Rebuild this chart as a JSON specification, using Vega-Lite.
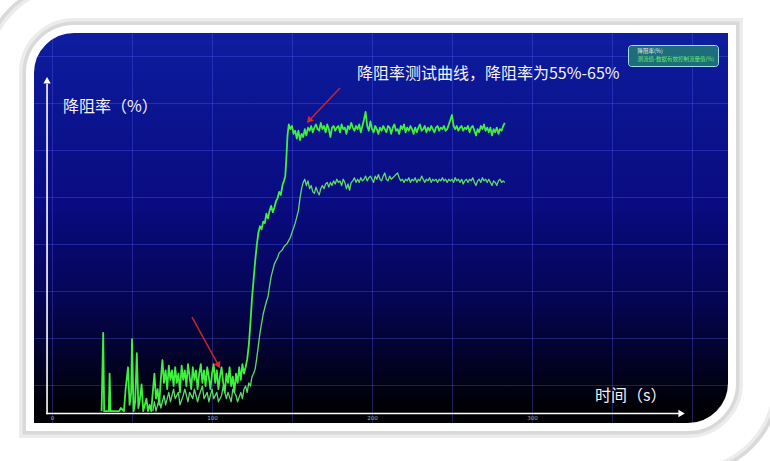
{
"$schema": "https://vega.github.io/schema/vega-lite/v6.json",
"width": 754, "height": 450,
"autosize": {"type": "none"},
"padding": {"left": 4, "top": 3, "right": 12, "bottom": 8},
"background": "#ffffff",
"config": {
  "view": {"stroke": null, "fill": {"gradient": "linear", "x1": 0, "y1": 0, "x2": 0, "y2": 1, "stops": [
    {"offset": 0, "color": "#1224a6"}, {"offset": 0.12, "color": "#0d1a9a"}, {"offset": 0.45, "color": "#090b80"},
    {"offset": 0.65, "color": "#050556"}, {"offset": 0.8, "color": "#020226"}, {"offset": 0.9, "color": "#000005"}, {"offset": 1, "color": "#000000"}]}},
  "font": "Noto Sans CJK SC"
},
"datasets": {
"curves": [
{"s":"a","t":31,"v":-16},{"s":"a","t":32,"v":9},{"s":"a","t":32.6,"v":-16},{"s":"a","t":35.5,"v":-16},{"s":"a","t":36,"v":-4},{"s":"a","t":36.6,"v":-16},{"s":"a","t":42,"v":-16},{"s":"a","t":43,"v":-15},{"s":"a","t":45,"v":-16},{"s":"a","t":46,"v":-9},{"s":"a","t":47.5,"v":-2},{"s":"a","t":48.5,"v":-14},{"s":"a","t":49.5,"v":-10},{"s":"a","t":50,"v":7},{"s":"a","t":51,"v":-16},{"s":"a","t":52,"v":-13},{"s":"a","t":53,"v":2.5},{"s":"a","t":54,"v":-15},{"s":"a","t":55,"v":-12},{"s":"a","t":56,"v":-7.5},{"s":"a","t":57,"v":-16},{"s":"a","t":58,"v":-14},{"s":"a","t":59,"v":-12},{"s":"a","t":60,"v":-16},{"s":"a","t":61,"v":-14},{"s":"a","t":62,"v":-16},{"s":"a","t":63,"v":-10},{"s":"a","t":64,"v":-4},{"s":"a","t":65,"v":-12},{"s":"a","t":66,"v":-9},{"s":"a","t":67,"v":-14},{"s":"a","t":68,"v":-6},{"s":"a","t":69,"v":0.3},
{"s":"a","t":70,"v":-7},{"s":"a","t":71,"v":-3},{"s":"a","t":72,"v":-9},{"s":"a","t":73,"v":-1.5},{"s":"a","t":74,"v":-6},{"s":"a","t":75,"v":-3},{"s":"a","t":76,"v":-8},{"s":"a","t":77,"v":-2},{"s":"a","t":78,"v":-7},{"s":"a","t":79,"v":-4},{"s":"a","t":80,"v":-10},{"s":"a","t":81,"v":-1.5},{"s":"a","t":82,"v":-6},{"s":"a","t":83,"v":-3},{"s":"a","t":84,"v":-8},{"s":"a","t":85,"v":-1},{"s":"a","t":86,"v":-5},{"s":"a","t":87,"v":-9},{"s":"a","t":88,"v":-2},{"s":"a","t":89,"v":-6},{"s":"a","t":90,"v":-3},{"s":"a","t":91,"v":-9},{"s":"a","t":92,"v":-4},{"s":"a","t":93,"v":-1},{"s":"a","t":94,"v":-7},{"s":"a","t":95,"v":-3},{"s":"a","t":96,"v":-8},{"s":"a","t":97,"v":-2},{"s":"a","t":98,"v":-5},{"s":"a","t":99,"v":-9},{"s":"a","t":100,"v":-4},{"s":"a","t":101,"v":-1},{"s":"a","t":102,"v":-7},{"s":"a","t":103,"v":-3},{"s":"a","t":104,"v":-9},{"s":"a","t":105,"v":-5},{"s":"a","t":106,"v":-2},{"s":"a","t":107,"v":-7},{"s":"a","t":108,"v":-10},{"s":"a","t":109,"v":-4},{"s":"a","t":110,"v":-7},{"s":"a","t":111,"v":-2},{"s":"a","t":112,"v":-8},{"s":"a","t":113,"v":-5},{"s":"a","t":114,"v":-10},{"s":"a","t":115,"v":-4},{"s":"a","t":116,"v":-7},{"s":"a","t":117,"v":-2},{"s":"a","t":118,"v":-6},{"s":"a","t":119,"v":-1},{"s":"a","t":120,"v":-4},{"s":"a","t":121,"v":-2},
{"s":"a","t":122,"v":0.5},{"s":"a","t":123,"v":5},{"s":"a","t":124,"v":12},{"s":"a","t":125,"v":20},{"s":"a","t":126,"v":26},{"s":"a","t":127,"v":32},{"s":"a","t":128,"v":37},{"s":"a","t":129,"v":41},{"s":"a","t":130,"v":43},{"s":"a","t":131,"v":42},{"s":"a","t":132,"v":44.5},{"s":"a","t":133,"v":44},{"s":"a","t":134,"v":47},{"s":"a","t":135,"v":45.5},{"s":"a","t":136,"v":48},{"s":"a","t":137,"v":49.5},{"s":"a","t":138,"v":47.5},{"s":"a","t":139,"v":49},{"s":"a","t":140,"v":51},{"s":"a","t":141,"v":52},{"s":"a","t":142,"v":54},{"s":"a","t":143,"v":53},{"s":"a","t":144,"v":56},{"s":"a","t":145,"v":57.5},{"s":"a","t":145.8,"v":59},{"s":"a","t":146.5,"v":65},{"s":"a","t":147.2,"v":72},{"s":"a","t":148,"v":75.5},{"s":"a","t":149,"v":74},{"s":"a","t":150,"v":75},{"s":"a","t":151,"v":72.5},{"s":"a","t":152,"v":73.5},{"s":"a","t":153,"v":71},{"s":"a","t":154,"v":73.5},{"s":"a","t":155,"v":70.5},{"s":"a","t":156,"v":72.5},{"s":"a","t":157,"v":71.5},{"s":"a","t":158,"v":74},{"s":"a","t":159,"v":72},{"s":"a","t":160,"v":74.5},{"s":"a","t":161,"v":73.5},{"s":"a","t":162,"v":75},{"s":"a","t":163,"v":73},{"s":"a","t":164,"v":74.5},{"s":"a","t":165,"v":75.5},{"s":"a","t":166,"v":74},{"s":"a","t":167,"v":73.5},{"s":"a","t":168,"v":76},{"s":"a","t":169,"v":74},{"s":"a","t":170,"v":75},{"s":"a","t":171,"v":73},{"s":"a","t":172,"v":75.5},{"s":"a","t":173,"v":74},{"s":"a","t":174,"v":71.5},{"s":"a","t":175,"v":74.5},{"s":"a","t":176,"v":75},{"s":"a","t":177,"v":73.5},{"s":"a","t":178,"v":74.5},{"s":"a","t":179,"v":75},{"s":"a","t":180,"v":73},{"s":"a","t":181,"v":75.5},{"s":"a","t":182,"v":74},{"s":"a","t":183,"v":74.5},{"s":"a","t":184,"v":72.5},{"s":"a","t":185,"v":75},{"s":"a","t":186,"v":74},{"s":"a","t":187,"v":76},{"s":"a","t":188,"v":74.5},{"s":"a","t":189,"v":73.5},{"s":"a","t":190,"v":75},{"s":"a","t":191,"v":74},{"s":"a","t":192,"v":75.5},{"s":"a","t":193,"v":73},{"s":"a","t":194,"v":75},{"s":"a","t":195,"v":77},{"s":"a","t":196,"v":79.5},{"s":"a","t":197,"v":75},{"s":"a","t":198,"v":73.5},{"s":"a","t":199,"v":76.5},{"s":"a","t":200,"v":74},{"s":"a","t":201,"v":73},{"s":"a","t":202,"v":75},{"s":"a","t":203,"v":74},{"s":"a","t":204,"v":72.5},{"s":"a","t":205,"v":74.5},{"s":"a","t":206,"v":73.5},{"s":"a","t":207,"v":75},{"s":"a","t":208,"v":74},{"s":"a","t":209,"v":73},{"s":"a","t":210,"v":75},{"s":"a","t":211,"v":74.5},{"s":"a","t":212,"v":72.5},{"s":"a","t":213,"v":74.5},{"s":"a","t":214,"v":75.5},{"s":"a","t":215,"v":73.5},{"s":"a","t":216,"v":74},{"s":"a","t":217,"v":72.5},{"s":"a","t":218,"v":75},{"s":"a","t":219,"v":74},{"s":"a","t":220,"v":75.5},{"s":"a","t":221,"v":73},{"s":"a","t":222,"v":74.5},{"s":"a","t":223,"v":73.5},{"s":"a","t":224,"v":75},{"s":"a","t":225,"v":74},{"s":"a","t":226,"v":72.5},{"s":"a","t":227,"v":74.5},{"s":"a","t":228,"v":73},{"s":"a","t":229,"v":74.5},{"s":"a","t":230,"v":75.5},{"s":"a","t":231,"v":73.5},{"s":"a","t":232,"v":74},{"s":"a","t":233,"v":75},{"s":"a","t":234,"v":73},{"s":"a","t":235,"v":74.5},{"s":"a","t":236,"v":73.5},{"s":"a","t":237,"v":75},{"s":"a","t":238,"v":74},{"s":"a","t":239,"v":73},{"s":"a","t":240,"v":74.5},{"s":"a","t":241,"v":75},{"s":"a","t":242,"v":73.5},{"s":"a","t":243,"v":74.5},{"s":"a","t":244,"v":74},{"s":"a","t":245,"v":75},{"s":"a","t":246,"v":73.5},{"s":"a","t":247,"v":74},{"s":"a","t":248,"v":75.5},{"s":"a","t":249,"v":77},{"s":"a","t":250,"v":78.5},{"s":"a","t":251,"v":75},{"s":"a","t":252,"v":74},{"s":"a","t":253,"v":75},{"s":"a","t":254,"v":73.5},{"s":"a","t":255,"v":74.5},{"s":"a","t":256,"v":75},{"s":"a","t":257,"v":73.5},{"s":"a","t":258,"v":74.5},{"s":"a","t":259,"v":74},{"s":"a","t":260,"v":75},{"s":"a","t":261,"v":73},{"s":"a","t":262,"v":74.5},{"s":"a","t":263,"v":75},{"s":"a","t":264,"v":73.5},{"s":"a","t":265,"v":72},{"s":"a","t":266,"v":74},{"s":"a","t":267,"v":73},{"s":"a","t":268,"v":75},{"s":"a","t":269,"v":74},{"s":"a","t":270,"v":75.5},{"s":"a","t":271,"v":73.5},{"s":"a","t":272,"v":74.5},{"s":"a","t":273,"v":73},{"s":"a","t":274,"v":74.5},{"s":"a","t":275,"v":72},{"s":"a","t":276,"v":74},{"s":"a","t":277,"v":73},{"s":"a","t":278,"v":74.5},{"s":"a","t":279,"v":72.5},{"s":"a","t":280,"v":74},{"s":"a","t":281,"v":73.5},{"s":"a","t":282,"v":75},{"s":"a","t":283,"v":76},
{"s":"b","t":63,"v":-16},{"s":"b","t":64,"v":-13},{"s":"b","t":65,"v":-16},{"s":"b","t":67,"v":-12},{"s":"b","t":68,"v":-15},{"s":"b","t":70,"v":-11},{"s":"b","t":71,"v":-14},{"s":"b","t":73,"v":-10},{"s":"b","t":74,"v":-13},{"s":"b","t":76,"v":-9},{"s":"b","t":77,"v":-12},{"s":"b","t":79,"v":-10},{"s":"b","t":80,"v":-14},{"s":"b","t":82,"v":-11},{"s":"b","t":83,"v":-9},{"s":"b","t":85,"v":-13},{"s":"b","t":86,"v":-10},{"s":"b","t":88,"v":-12},{"s":"b","t":89,"v":-9},{"s":"b","t":91,"v":-13},{"s":"b","t":92,"v":-11},{"s":"b","t":94,"v":-8},{"s":"b","t":95,"v":-12},{"s":"b","t":97,"v":-10},{"s":"b","t":98,"v":-13},{"s":"b","t":100,"v":-9},{"s":"b","t":101,"v":-12},{"s":"b","t":103,"v":-10},{"s":"b","t":104,"v":-13},{"s":"b","t":106,"v":-11},{"s":"b","t":107,"v":-8},{"s":"b","t":109,"v":-12},{"s":"b","t":110,"v":-10},{"s":"b","t":112,"v":-13},{"s":"b","t":113,"v":-9},{"s":"b","t":115,"v":-11},{"s":"b","t":116,"v":-13},{"s":"b","t":118,"v":-10},{"s":"b","t":119,"v":-12},{"s":"b","t":120,"v":-9},{"s":"b","t":121,"v":-8},{"s":"b","t":122,"v":-10},{"s":"b","t":123,"v":-7},{"s":"b","t":124,"v":-8},{"s":"b","t":125,"v":-5},{"s":"b","t":126,"v":-4},{"s":"b","t":127,"v":-2.5},{"s":"b","t":128,"v":1},{"s":"b","t":129,"v":5},{"s":"b","t":130,"v":9},{"s":"b","t":131,"v":12},{"s":"b","t":132,"v":15},{"s":"b","t":133,"v":17},{"s":"b","t":134,"v":19},{"s":"b","t":135,"v":20.5},{"s":"b","t":136,"v":24},{"s":"b","t":137,"v":27},{"s":"b","t":138,"v":29},{"s":"b","t":139,"v":31},{"s":"b","t":140,"v":32},{"s":"b","t":141,"v":33},{"s":"b","t":142,"v":34.5},{"s":"b","t":143,"v":35},{"s":"b","t":144,"v":35.5},{"s":"b","t":145,"v":36.5},{"s":"b","t":146,"v":37},{"s":"b","t":147,"v":37.5},{"s":"b","t":148,"v":38.5},{"s":"b","t":149,"v":39.5},{"s":"b","t":150,"v":41},{"s":"b","t":151,"v":42.5},{"s":"b","t":152,"v":44},{"s":"b","t":153,"v":46},{"s":"b","t":154,"v":48},{"s":"b","t":155,"v":52},{"s":"b","t":156,"v":55},{"s":"b","t":157,"v":57},{"s":"b","t":158,"v":58},{"s":"b","t":159,"v":56},{"s":"b","t":160,"v":57.5},{"s":"b","t":161,"v":55},{"s":"b","t":162,"v":56},{"s":"b","t":163,"v":54},{"s":"b","t":164,"v":53.5},{"s":"b","t":165,"v":55.5},{"s":"b","t":166,"v":54},{"s":"b","t":167,"v":53},{"s":"b","t":168,"v":55},{"s":"b","t":169,"v":56},{"s":"b","t":170,"v":55},{"s":"b","t":171,"v":56.5},{"s":"b","t":172,"v":57},{"s":"b","t":173,"v":55.5},{"s":"b","t":174,"v":57},{"s":"b","t":175,"v":56},{"s":"b","t":176,"v":57.5},{"s":"b","t":177,"v":56.5},{"s":"b","t":178,"v":58},{"s":"b","t":179,"v":57},{"s":"b","t":180,"v":57.5},{"s":"b","t":181,"v":56},{"s":"b","t":182,"v":58},{"s":"b","t":183,"v":57},{"s":"b","t":184,"v":55},{"s":"b","t":185,"v":56.5},{"s":"b","t":186,"v":54.5},{"s":"b","t":187,"v":57},{"s":"b","t":188,"v":57.5},{"s":"b","t":189,"v":58.5},{"s":"b","t":190,"v":57},{"s":"b","t":191,"v":58},{"s":"b","t":192,"v":57},{"s":"b","t":193,"v":58.5},{"s":"b","t":194,"v":57.5},{"s":"b","t":195,"v":58},{"s":"b","t":196,"v":59},{"s":"b","t":197,"v":57.5},{"s":"b","t":198,"v":58.5},{"s":"b","t":199,"v":59},{"s":"b","t":200,"v":58},{"s":"b","t":201,"v":57},{"s":"b","t":202,"v":59},{"s":"b","t":203,"v":58},{"s":"b","t":204,"v":59.5},{"s":"b","t":205,"v":58},{"s":"b","t":206,"v":57.5},{"s":"b","t":207,"v":59},{"s":"b","t":208,"v":60},{"s":"b","t":209,"v":58},{"s":"b","t":210,"v":57.5},{"s":"b","t":211,"v":59},{"s":"b","t":212,"v":58},{"s":"b","t":213,"v":58.5},{"s":"b","t":214,"v":59},{"s":"b","t":215,"v":59.5},{"s":"b","t":216,"v":60},{"s":"b","t":217,"v":58.5},{"s":"b","t":218,"v":57.5},{"s":"b","t":219,"v":58},{"s":"b","t":220,"v":57},{"s":"b","t":221,"v":58},{"s":"b","t":222,"v":57.5},{"s":"b","t":223,"v":58.5},{"s":"b","t":224,"v":57},{"s":"b","t":225,"v":58},{"s":"b","t":226,"v":57.5},{"s":"b","t":227,"v":58.5},{"s":"b","t":228,"v":57},{"s":"b","t":229,"v":58},{"s":"b","t":230,"v":57.5},{"s":"b","t":231,"v":59},{"s":"b","t":232,"v":58},{"s":"b","t":233,"v":57},{"s":"b","t":234,"v":58},{"s":"b","t":235,"v":57.5},{"s":"b","t":236,"v":58.5},{"s":"b","t":237,"v":57},{"s":"b","t":238,"v":58},{"s":"b","t":239,"v":57.5},{"s":"b","t":240,"v":58},{"s":"b","t":241,"v":57},{"s":"b","t":242,"v":58},{"s":"b","t":243,"v":57.5},{"s":"b","t":244,"v":58.5},{"s":"b","t":245,"v":57.5},{"s":"b","t":246,"v":58},{"s":"b","t":247,"v":57},{"s":"b","t":248,"v":58},{"s":"b","t":249,"v":57.5},{"s":"b","t":250,"v":58},{"s":"b","t":251,"v":57},{"s":"b","t":252,"v":58.5},{"s":"b","t":253,"v":57.5},{"s":"b","t":254,"v":58},{"s":"b","t":255,"v":57},{"s":"b","t":256,"v":58},{"s":"b","t":257,"v":56.5},{"s":"b","t":258,"v":57.5},{"s":"b","t":259,"v":58},{"s":"b","t":260,"v":57},{"s":"b","t":261,"v":58},{"s":"b","t":262,"v":57.5},{"s":"b","t":263,"v":58.5},{"s":"b","t":264,"v":57},{"s":"b","t":265,"v":56},{"s":"b","t":266,"v":57.5},{"s":"b","t":267,"v":58},{"s":"b","t":268,"v":57},{"s":"b","t":269,"v":58.5},{"s":"b","t":270,"v":57.5},{"s":"b","t":271,"v":58},{"s":"b","t":272,"v":57},{"s":"b","t":273,"v":58},{"s":"b","t":274,"v":57},{"s":"b","t":275,"v":56},{"s":"b","t":276,"v":57.5},{"s":"b","t":277,"v":57},{"s":"b","t":278,"v":56},{"s":"b","t":279,"v":57.5},{"s":"b","t":280,"v":58},{"s":"b","t":281,"v":57},{"s":"b","t":282,"v":57.5},{"s":"b","t":283,"v":57}
]
},
"layer": [
  {"data": {"values": [{}]}, "mark": {"type": "rect", "fill": null, "stroke": "#ffffff", "strokeWidth": 60, "cornerRadiusTopLeft": 70, "cornerRadiusBottomRight": 70}, "encoding": {}},
  {"data": {"values": [{}]}, "mark": {"type": "rect", "fill": null, "stroke": "#d9d9d9", "strokeWidth": 44, "cornerRadiusTopLeft": 70, "cornerRadiusBottomRight": 70}, "encoding": {}},
  {"data": {"values": [{}]}, "mark": {"type": "rect", "fill": null, "stroke": "#ececec", "strokeWidth": 37, "cornerRadiusTopLeft": 70, "cornerRadiusBottomRight": 70}, "encoding": {}},
  {"data": {"values": [{}]}, "mark": {"type": "rect", "fill": null, "stroke": "#ffffff", "strokeWidth": 30, "cornerRadiusTopLeft": 70, "cornerRadiusBottomRight": 70}, "encoding": {}},
  {
    "data": {"name": "curves"},
    "mark": {"type": "line", "strokeJoin": "round"},
    "encoding": {
      "x": {"field": "t", "type": "quantitative",
        "scale": {"domain": [-30, 441.25], "nice": false, "zero": false},
        "axis": {"title": null, "offset": -39.5, "values": [0,50,100,150,200,250,300,350,400],
          "labelExpr": "datum.value % 100 === 0 && datum.value < 400 ? datum.label : ''",
          "grid": true, "gridColor": "#5565ff", "gridOpacity": 0.32, "domain": false, "ticks": false,
          "labelFontSize": 5.5, "labelColor": "#b0b0b0", "labelPadding": 2, "labelFont": "DejaVu Sans",
          "labelOverlap": false, "labelFlush": false}},
      "y": {"field": "v", "type": "quantitative",
        "scale": {"domain": [-29.36, 114.26], "nice": false, "zero": false},
        "axis": {"title": null, "offset": -43, "values": [-22.5,-15,-7.5,0,7.5,15,22.5,30,37.5,45,52.5,60,67.5,75,82.5,90,97.5,105,112.5],
          "labelExpr": "(datum.value === -15 || datum.value === 0 || datum.value === 15 || datum.value === 30 || datum.value === 45 || datum.value === 60 || datum.value === 75) ? datum.label : ''",
          "grid": true, "gridColor": "#5565ff", "gridOpacity": 0.32, "domain": false, "ticks": false,
          "labelFontSize": 6, "labelColor": "#b4b8d8", "labelPadding": 2, "labelFont": "DejaVu Sans",
          "labelOverlap": false, "labelFlush": false, "labelBound": false}},
      "color": {"field": "s", "type": "nominal",
        "scale": {"domain": ["a", "b"], "range": ["#3ff03c", "#5cdc66"]},
        "legend": {"orient": "none", "legendX": 624, "legendY": 42, "title": null,
          "fillColor": "#1d6d7c", "strokeColor": "#a6dce6", "cornerRadius": 3, "padding": 3,
          "labelFontSize": 5.5, "labelColor": "#e8e8e8", "symbolOpacity": 0, "symbolSize": 4, "labelOffset": 1, "rowPadding": 1,
          "labelLimit": 200, "labelFont": "Noto Sans CJK SC",
          "labelExpr": "datum.value === 'a' ? '降阻率(%)' : '测流值-数据有效控制流量值(%)'",
          "encode": {"labels": {"update": {"fill": {"signal": "datum.value === 'a' ? '#e8e8e8' : '#6ee86a'"}}}}}},
      "strokeWidth": {"field": "s", "type": "nominal", "scale": {"domain": ["a", "b"], "range": [1.8, 1.3]}, "legend": null}
    }
  },
  {
    "data": {"values": [{"t": -3.1, "v": -17, "t2": -3.1, "v2": 88.5}, {"t": -3.6, "v": -16.75, "t2": 393, "v2": -16.75}]},
    "mark": {"type": "rule", "color": "#ffffff", "strokeWidth": 1.6},
    "encoding": {"x": {"field": "t", "type": "quantitative"}, "y": {"field": "v", "type": "quantitative"}, "x2": {"field": "t2"}, "y2": {"field": "v2"}}
  },
  {
    "data": {"values": [{"t": -3.1, "v": 89.6}]},
    "mark": {"type": "point", "shape": "triangle-up", "filled": true, "color": "#ffffff", "size": 55, "opacity": 1},
    "encoding": {"x": {"field": "t", "type": "quantitative"}, "y": {"field": "v", "type": "quantitative"}}
  },
  {
    "data": {"values": [{"t": 393.5, "v": -16.75}]},
    "mark": {"type": "point", "shape": "triangle-right", "filled": true, "color": "#ffffff", "size": 55, "opacity": 1},
    "encoding": {"x": {"field": "t", "type": "quantitative"}, "y": {"field": "v", "type": "quantitative"}}
  },
  {
    "data": {"values": [{"t": 180, "v": 87.1, "t2": 160.6, "v2": 76.7}, {"t": 87.5, "v": 14.0, "t2": 104.1, "v2": -1.4}]},
    "mark": {"type": "rule", "color": "#c4262c", "strokeWidth": 1.5},
    "encoding": {"x": {"field": "t", "type": "quantitative"}, "y": {"field": "v", "type": "quantitative"}, "x2": {"field": "t2"}, "y2": {"field": "v2"}}
  },
  {
    "data": {"values": [{"t": 160.6, "v": 76.7}]},
    "mark": {"type": "point", "shape": "triangle-up", "filled": true, "color": "#d0262c", "size": 55, "angle": 223, "opacity": 1},
    "encoding": {"x": {"field": "t", "type": "quantitative"}, "y": {"field": "v", "type": "quantitative"}}
  },
  {
    "data": {"values": [{"t": 104.1, "v": -1.4}]},
    "mark": {"type": "point", "shape": "triangle-up", "filled": true, "color": "#d0262c", "size": 55, "angle": 151, "opacity": 1},
    "encoding": {"x": {"field": "t", "type": "quantitative"}, "y": {"field": "v", "type": "quantitative"}}
  },
  {
    "data": {"values": [{"t": 190.6, "v": 91.6, "label": "降阻率测试曲线，降阻率为55%-65%"}]},
    "mark": {"type": "text", "align": "left", "baseline": "middle", "fontSize": 16, "color": "#f2f2f2", "font": "Noto Sans CJK SC"},
    "encoding": {"x": {"field": "t", "type": "quantitative"}, "y": {"field": "v", "type": "quantitative"}, "text": {"field": "label"}}
  },
  {
    "data": {"values": [{"t": 6.9, "v": 81.1, "label": "降阻率（%）"}]},
    "mark": {"type": "text", "align": "left", "baseline": "middle", "fontSize": 16, "color": "#f2f2f2", "font": "Noto Sans CJK SC"},
    "encoding": {"x": {"field": "t", "type": "quantitative"}, "y": {"field": "v", "type": "quantitative"}, "text": {"field": "label"}}
  },
  {
    "data": {"values": [{"t": 339.4, "v": -11.2, "label": "时间（s）"}]},
    "mark": {"type": "text", "align": "left", "baseline": "middle", "fontSize": 16, "color": "#f2f2f2", "font": "Noto Sans CJK SC"},
    "encoding": {"x": {"field": "t", "type": "quantitative"}, "y": {"field": "v", "type": "quantitative"}, "text": {"field": "label"}}
  }
]
}
